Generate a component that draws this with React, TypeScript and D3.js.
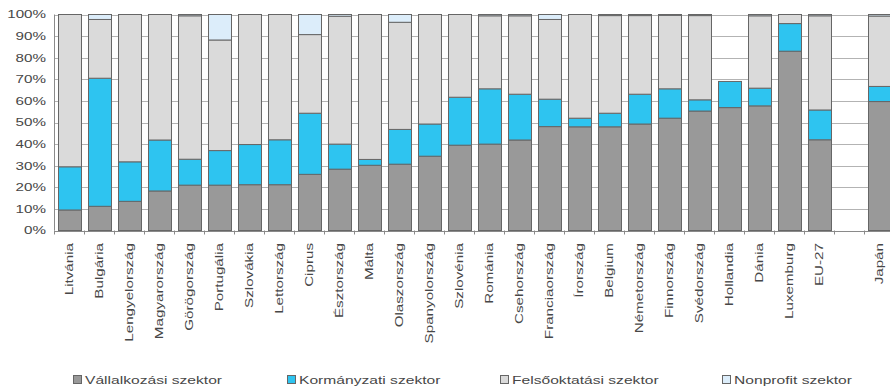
import React from "react";
import * as d3 from "d3";

// Categories (the blank entry leaves a gap before Japán)
const categories = [
  "Litvánia", "Bulgária", "Lengyelország", "Magyarország", "Görögország",
  "Portugália", "Szlovákia", "Lettország", "Ciprus", "Észtország", "Málta",
  "Olaszország", "Spanyolország", "Szlovénia", "Románia", "Csehország",
  "Franciaország", "Írország", "Belgium", "Németország", "Finnország",
  "Svédország", "Hollandia", "Dánia", "Luxemburg", "EU-27", "", "Japán",
];

// Shares of R&D expenditure by sector (%), null = no data
const vallalkozasi = [9.5, 11.2, 13.5, 18.3, 21, 21, 21.2, 21.2, 26, 28.4, 30.2, 30.7, 34.4, 39.5, 40, 41.9, 48.1, 48, 48, 49.3, 52, 55.3, 56.9, 57.7, 83, 42, null, 59.7];
const kormanyzati = [20, 59.3, 18.3, 23.6, 12, 16, 18.6, 20.8, 28.3, 11.6, 2.7, 16.1, 14.9, 22.2, 25.6, 21.2, 12.7, 4, 6.3, 13.8, 13.6, 5.2, 12.1, 8.2, 12.8, 13.8, null, 7];
const felsooktatasi = [70.5, 27.2, 68.2, 58.1, 66.4, 51.2, 60.2, 58, 36.4, 59.2, 67.1, 49.6, 50.7, 38.3, 33.8, 36.3, 36.9, 48, 45.2, 36.4, 34, 39, null, 33.5, 4.2, 43.6, null, 32.6];
const nonprofit = [0, 2.3, 0, 0, 0.6, 11.8, 0, 0, 9.3, 0.8, 0, 3.6, 0, 0, 0.6, 0.6, 2.3, 0, 0.5, 0.5, 0.4, 0.5, null, 0.6, 0, 0.6, null, 0.7];

const seriesNames = ["Vállalkozási szektor", "Kormányzati szektor", "Felsőoktatási szektor", "Nonprofit szektor"];
const seriesValues = [vallalkozasi, kormanyzati, felsooktatasi, nonprofit];
const yTicks = [0, 10, 20, 30, 40, 50, 60, 70, 80, 90, 100];

const colors = ["#999999", "#2ec4f0", "#dadada", "#dcedfa"];
const W = 890;
const H = 391;
const FONT = "'Liberation Sans', Arial, sans-serif";
const STRETCH = 1.38;
const TEXT = "#474747";

export default function App() {
  const x = d3.scaleBand<string>()
    .domain(categories.map((c, i) => `${i}`))
    .range([54, 894])
    .paddingInner(0.25)
    .paddingOuter(0.125);
  const y = d3.scaleLinear().domain([0, 100]).range([230.5, 14.5]);

  const rows = categories.map((c, i) => {
    const r: Record<string, number | null> = {};
    seriesNames.forEach((s, k) => (r[s] = seriesValues[k][i]));
    return r;
  });
  const stack = d3.stack<Record<string, number | null>>()
    .keys(seriesNames)
    .value((d, key) => (d[key] == null ? 0 : (d[key] as number)));
  const layers = stack(rows);

  const plotRight = W;
  const step = x.step();
  const x0 = x.range()[0];

  const legendX = [73, 287, 500, 722];

  return (
    <svg width={W} height={H} style={{ position: "absolute", left: 0, top: 0, background: "#fff" }}>
      {/* gridlines */}
      {yTicks.map((t) => (
        <line key={t} x1={x0} x2={plotRight} y1={Math.round(y(t)) + 0.5} y2={Math.round(y(t)) + 0.5}
          stroke={t === 0 ? "#8a8a8a" : "#b3b3b3"} strokeWidth={1} />
      ))}
      {/* value axis line */}
      <line x1={x0 + 0.5} x2={x0 + 0.5} y1={y(100)} y2={y(0)} stroke="#8a8a8a" />
      {/* category ticks */}
      {d3.range(categories.length + 1).map((i) => (
        <line key={i} x1={x0 + i * step + 0.5} x2={x0 + i * step + 0.5} y1={y(0)} y2={y(0) + 4} stroke="#8a8a8a" />
      ))}
      {/* y tick labels */}
      {yTicks.map((t) => (
        <text key={t} transform={`translate(46,${y(t)}) scale(${STRETCH},1)`} textAnchor="end"
          dy="0.35em" fontSize={11} fontFamily={FONT} fill={TEXT}>{`${t}%`}</text>
      ))}
      {/* stacked bars */}
      {layers.map((layer, k) => (
        <g key={seriesNames[k]}>
          {layer.map((d, i) => {
            const v = seriesValues[k][i];
            if (v == null || v <= 0) return null;
            const bx = x(`${i}`)!;
            return (
              <rect key={i} x={Math.round(bx) + 0.5} y={y(d[1])} width={Math.round(x.bandwidth())}
                height={y(d[0]) - y(d[1])} fill={colors[k]} stroke="#666666" strokeWidth={1} />
            );
          })}
        </g>
      ))}
      {/* category labels */}
      {categories.map((c, i) => c === "" ? null : (
        <text key={i}
          transform={`translate(${x(`${i}`)! + x.bandwidth() / 2},243) rotate(-90) scale(${STRETCH},1)`}
          textAnchor="end" dy="0.35em" fontSize={11} fontFamily={FONT} fill={TEXT}>{c}</text>
      ))}
      {/* legend */}
      {seriesNames.map((s, k) => (
        <g key={s}>
          <rect x={legendX[k] + 0.5} y={375.5} width={8} height={8} fill={colors[k]} stroke="#666666" />
          <text transform={`translate(${legendX[k] + 12},380) scale(1.42,1)`} dy="0.35em"
            fontSize={11} fontFamily={FONT} fill={TEXT}>{s}</text>
        </g>
      ))}
    </svg>
  );
}
